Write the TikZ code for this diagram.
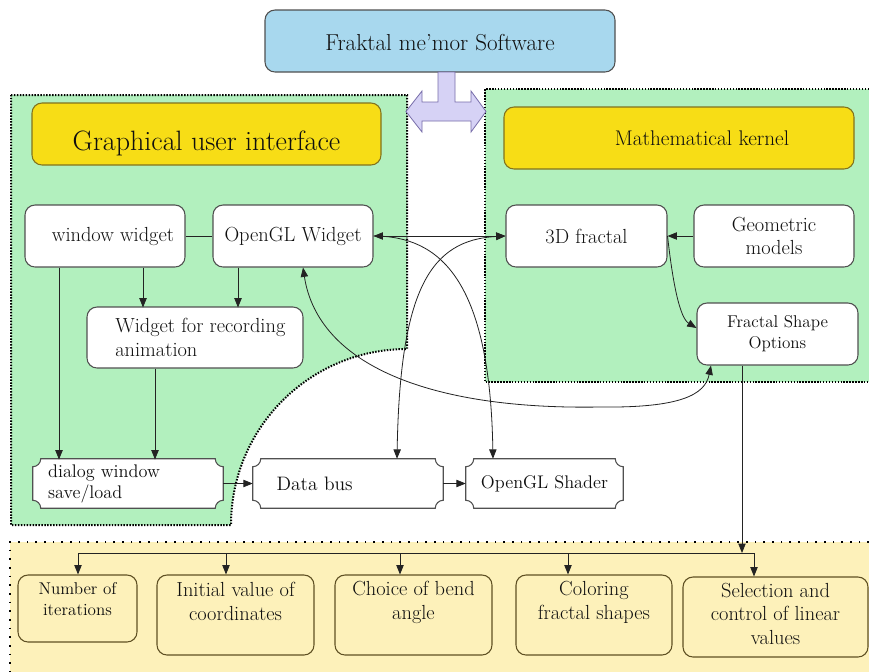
\documentclass[tikz,border=0pt]{standalone}
\usepackage{fontspec}
\usetikzlibrary{arrows.meta,calc}
\pgfdeclarelayer{bg}
\pgfdeclarelayer{mid}
\pgfsetlayers{bg,mid,main}
\definecolor{gregion}{RGB}{178,240,190}
\definecolor{yregion}{RGB}{253,241,186}
\definecolor{goldbox}{RGB}{247,221,22}
\definecolor{goldedge}{RGB}{130,115,30}
\definecolor{bluebox}{RGB}{168,216,238}
\definecolor{lav}{RGB}{214,210,245}
\definecolor{lavedge}{RGB}{120,110,170}
\definecolor{boxc}{RGB}{80,80,80}
\definecolor{brownedge}{RGB}{95,80,35}
\definecolor{linec}{RGB}{35,35,35}
\definecolor{txt}{RGB}{15,15,15}
\tikzset{
  arr/.style={draw=linec, line width=0.6pt, -{Triangle[length=7pt,width=5.5pt]}},
  arrtwo/.style={draw=linec, line width=0.6pt, {Triangle[length=7pt,width=5.5pt]}-{Triangle[length=7pt,width=5.5pt]}},
  conn/.style={draw=linec, line width=0.6pt},
  basebox/.style={rounded corners=7.5pt, line width=0.8pt, inner sep=1pt, align=center, text=txt},
  wbox/.style={basebox, draw=boxc, fill=white, font=\fontsize{15.3}{17.8}\selectfont},
  smallbox/.style={basebox, draw=boxc, fill=white, font=\fontsize{12.8}{15.75}\selectfont},
  goldhead/.style={basebox, draw=goldedge, fill=goldbox},
  ybox/.style={basebox, draw=brownedge, fill=yregion, font=\fontsize{15.3}{17.5}\selectfont},
  ptext/.style={inner sep=1pt, text=txt},
  plaq/.style={draw=boxc, fill=white, line width=0.8pt},
  gdots/.style={line width=1.5pt, dash pattern=on 1.1pt off 1.1pt},
  ydots/.style={line width=1.5pt, dash pattern=on 1.3pt off 5.2pt},
}
\newcommand\plaque[1]{%
  \draw[plaq] ($(#1.north west)+(8,0)$) -- ($(#1.north east)+(-8,0)$)
   .. controls +(0,4.4) and +(-4.4,0) .. ($(#1.north east)+(0,8)$)
   -- ($(#1.south east)+(0,-8)$)
   .. controls +(-4.4,0) and +(0,-4.4) .. ($(#1.south east)+(-8,0)$)
   -- ($(#1.south west)+(8,0)$)
   .. controls +(0,-4.4) and +(4.4,0) .. ($(#1.south west)+(0,-8)$)
   -- ($(#1.north west)+(0,8)$)
   .. controls +(4.4,0) and +(0,4.4) .. ($(#1.north west)+(8,0)$) -- cycle;}
\begin{document}
\begin{tikzpicture}[x=0.75pt,y=-0.75pt]
\useasboundingbox (0,0) rectangle (869,672);

% ---------- background regions ----------
\begin{pgfonlayer}{bg}
  \fill[white] (0,0) rectangle (869,672);
  % bottom yellow region
  \fill[yregion] (10,542) rectangle (869,672);
  \draw[ydots] (869,542) -- (10,542) -- (10,672);
  % GUI green region
  \fill[gregion] (11,95) -- (407,95) -- (407,349) arc[start angle=270, end angle=180, radius=176] -- (11,525) -- cycle;
  \draw[gdots] (11,95) -- (407,95) -- (407,349) arc[start angle=270, end angle=180, radius=176] -- (11,525) -- cycle;
  % Math kernel green region
  \fill[gregion] (485,89) rectangle (869,382);
  \draw[gdots] (869,89) -- (485,89) -- (485,382) -- (869,382);
\end{pgfonlayer}

% ---------- nodes ----------
\node[basebox, draw=boxc, fill=bluebox, minimum width=262.5pt, minimum height=46.5pt,
      font=\fontsize{17.3}{20}\selectfont, text height=13.5pt, text depth=0pt] (top) at (440,41) {Fraktal me'mor Software};

% T-shaped double arrow
\filldraw[fill=lav, draw=lavedge, line width=0.6pt]
  (438,72) -- (438,102) -- (422,102) -- (422,91) -- (406,111.5) -- (422,132) -- (422,121)
  -- (471,121) -- (471,132) -- (486,111.5) -- (471,91) -- (471,102) -- (455,102) -- (455,72) -- cycle;

\node[goldhead, minimum width=261.75pt, minimum height=46.5pt, font=\fontsize{21}{24}\selectfont,
      text height=25pt, text depth=0pt] (gui) at (206.5,134) {Graphical user interface};
\node[goldhead, minimum width=262.5pt, minimum height=46.5pt, font=\fontsize{15.9}{18}\selectfont] (mk) at (679,138) {\hspace*{34.5pt}Mathematical kernel};

\node[wbox, minimum width=120pt, minimum height=46.5pt] (ww) at (105,236) {\hspace*{12pt}window widget};
\node[wbox, minimum width=120pt, minimum height=46.5pt] (ogl) at (293,236) {OpenGL Widget};
\node[wbox, minimum width=162pt, minimum height=45.75pt, align=left] (rec) at (195,337.5) {\hspace*{8pt}Widget for recording\\\hspace*{8pt}animation};

\node[wbox, minimum width=120.75pt, minimum height=46.5pt] (fr) at (586.5,236) {3D fractal};
\node[wbox, minimum width=120pt, minimum height=46.5pt] (geo) at (774,236) {Geometric\\models};
\node[smallbox, minimum width=120.75pt, minimum height=46.5pt] (fso) at (777.5,334) {Fractal Shape\\Options};

% plaque-shaped boxes
\node[ptext, minimum width=142.5pt, minimum height=36.75pt, align=left, font=\fontsize{13.7}{15.75}\selectfont] (dlg) at (128,483.5) {dialog window\hspace*{36pt}\\save/load};
\node[ptext, minimum width=142.5pt, minimum height=36.75pt, font=\fontsize{14.6}{18}\selectfont] (bus) at (348,483.5) {Data bus\hspace*{50pt}};
\node[ptext, minimum width=117.75pt, minimum height=36.75pt, font=\fontsize{13.7}{18}\selectfont] (shd) at (544.5,483.5) {OpenGL Shader};
\begin{pgfonlayer}{mid}
  \plaque{dlg}
  \plaque{bus}
  \plaque{shd}
\end{pgfonlayer}

% bottom boxes
\node[ybox, minimum width=89.25pt, minimum height=50.25pt, font=\fontsize{12.8}{15.75}\selectfont,
      text height=12pt, text depth=2.25pt] (num) at (77.5,608.5) {Number of\\iterations};
\node[ybox, minimum width=117.75pt, minimum height=60pt, text height=10pt, text depth=2.5pt] (ini) at (235.5,615) {Initial value of\\coordinates};
\node[ybox, minimum width=117.75pt, minimum height=60pt, text height=9pt, text depth=3pt] (cho) at (413.5,615) {Choice of bend\\angle};
\node[ybox, minimum width=117pt, minimum height=60pt, text height=9pt, text depth=3pt] (col) at (594,615) {Coloring\\fractal shapes};
\node[ybox, minimum width=138.75pt, minimum height=60pt, text height=42pt, text depth=1.5pt] (sel) at (775.5,617) {Selection and\\control of linear\\values};

% ---------- connectors ----------
\draw[conn] (ww.east) -- (ogl.west);
\draw[arr] ($(ww.south)+(38,0)$) -- ($(ww.south)+(38,40)$);
\draw[arr] ($(ogl.south)+(-55,0)$) -- ($(ogl.south)+(-55,40)$);
\draw[arr] ($(ww.south)+(-46,0)$) -- ($(ww.south)+(-46,192)$);
\draw[arr] ($(rec.south)+(-40,0)$) -- ($(rec.south)+(-40,91)$);
\draw[arr] (dlg.east) -- (bus.west);
\draw[arr] (bus.east) -- (shd.west);

\draw[arrtwo] (ogl.east) -- (fr.west);
\draw[arr] (ogl.east) .. controls (440,236) and (490,280) .. ($(shd.north)+(-51.5,0)$);
\draw[arrtwo] (fr.west) .. controls (430,240) and (400,290) .. ($(bus.north)+(49,0)$);
\draw[arrtwo] ($(ogl.south)+(10,0)$) .. controls (318,365) and (430,410) .. (600,407)
      .. controls (680,408) and (705,395) .. ($(fso.south)+(-66.5,0)$);

\draw[arr] (geo.west) -- (fr.east);
\draw[arr] (fr.east) .. controls (673,285) and (680,318) .. ($(fso.west)+(0,-6)$);

% distribution to bottom boxes
\coordinate (hub) at (742,553);
\coordinate (d1) at (78,553);
\coordinate (d2) at (226,553);
\coordinate (d3) at (400,553);
\coordinate (d4) at (568,553);
\coordinate (d5) at (754,553);
\draw[arr] (fso.south -| hub) -- (hub);
\draw[conn] (d1) -- (d5);
\draw[arr] (d1) -- (d1 |- num.north);
\draw[arr] (d2) -- (d2 |- ini.north);
\draw[arr] (d3) -- (d3 |- cho.north);
\draw[arr] (d4) -- (d4 |- col.north);
\draw[arr] (d5) -- (d5 |- sel.north);
\end{tikzpicture}
\end{document}
